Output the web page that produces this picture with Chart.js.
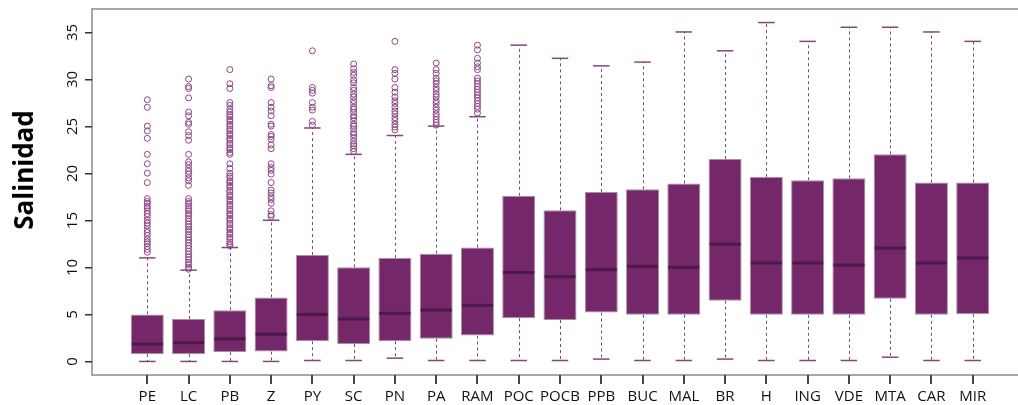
<!DOCTYPE html>
<html>
<head>
<meta charset="utf-8">
<script src="https://cdn.jsdelivr.net/npm/chart.js@4.4.1/dist/chart.umd.min.js"></script>
<style>
  html, body { margin: 0; padding: 0; background: #ffffff; overflow: hidden; }
  #wrap { width: 1040px; height: 405px; position: relative; }
</style>
</head>
<body>
<div id="wrap"><canvas id="c"></canvas></div>
<script>
// ---- data ----
const categories = ['PE','LC','PB','Z','PY','SC','PN','PA','RAM','POC','POCB','PPB','BUC','MAL','BR','H','ING','VDE','MTA','CAR','MIR'];
const whiskerLow  = [0, 0, 0, 0, 0.1, 0.1, 0.35, 0.1, 0.1, 0.1, 0.1, 0.25, 0.1, 0.1, 0.25, 0.1, 0.1, 0.1, 0.45, 0.1, 0.1];
const q1          = [0.8, 0.8, 1.0, 1.05, 2.15, 1.85, 2.15, 2.4, 2.75, 4.6, 4.4, 5.2, 4.95, 4.95, 6.45, 4.95, 4.95, 4.95, 6.65, 4.95, 5.05];
const median      = [1.85, 2.0, 2.4, 2.9, 5.0, 4.5, 5.1, 5.45, 5.95, 9.45, 9.0, 9.75, 10.1, 10.0, 12.45, 10.45, 10.45, 10.25, 12.05, 10.45, 11.0];
const q3          = [5.0, 4.5, 5.45, 6.8, 11.3, 10.0, 11.0, 11.45, 12.1, 17.6, 16.05, 18.0, 18.3, 18.9, 21.5, 19.6, 19.25, 19.45, 22.0, 19.0, 19.0];
const whiskerHigh = [11.0, 9.7, 12.1, 15.0, 24.8, 22.0, 24.0, 25.0, 26.0, 33.6, 32.2, 31.4, 31.8, 35.0, 33.0, 36.0, 34.0, 35.5, 35.5, 35.0, 34.0];

const outliersPE  = [27.8, 27.0, 25.0, 24.5, 23.7, 22.0, 21.0, 20.0, 19.0, 17.3, 17.0, 16.8, 16.5, 16.3, 16.0, 15.7, 15.4, 15.0, 14.7, 14.4, 14.0, 13.7, 13.4, 13.0, 12.7, 12.5, 12.2, 11.9, 11.6];
const outliersLC  = [30.0, 29.2, 29.0, 28.0, 26.5, 26.1, 25.4, 25.2, 24.4, 24.0, 23.5, 22.0, 21.2, 20.9, 20.5, 20.2, 19.9, 19.5, 19.2, 18.7, 17.3, 17.0, 16.8, 16.5, 16.2, 16.0, 15.7, 15.5, 15.2, 14.9, 14.6, 14.3, 14.0, 13.8, 13.5, 13.2, 12.9, 12.6, 12.3, 12.0, 11.7, 11.4, 11.1, 10.8, 10.5, 10.3, 10.0, 9.8];
const outliersPB  = [31.0, 29.5, 29.0, 27.5, 27.2, 26.8, 26.5, 26.2, 26.0, 25.7, 25.5, 25.2, 25.0, 24.7, 24.5, 24.2, 24.0, 23.7, 23.5, 23.2, 23.0, 22.7, 22.5, 22.2, 22.0, 21.0, 20.5, 20.0, 19.7, 19.5, 19.2, 19.0, 18.7, 18.5, 18.2, 18.0, 17.7, 17.5, 17.2, 17.0, 16.7, 16.5, 16.2, 16.0, 15.7, 15.5, 15.2, 15.0, 14.7, 14.5, 14.2, 14.0, 13.7, 13.5, 13.2, 13.0, 12.7, 12.5, 12.3];
const outliersZ   = [30.0, 29.3, 29.1, 27.5, 27.0, 26.6, 26.1, 25.2, 25.0, 24.1, 23.9, 23.6, 23.0, 22.6, 21.0, 20.6, 20.3, 19.9, 19.0, 18.2, 17.9, 17.5, 17.2, 16.8, 16.0, 15.6, 15.4];
const outliersPY  = [33.0, 29.1, 28.8, 28.5, 27.5, 27.0, 26.7, 25.5, 25.1];
const outliersSC  = [31.6, 31.1, 30.7, 30.4, 29.9, 29.6, 29.1, 28.8, 28.4, 28.1, 27.7, 27.4, 27.0, 26.8, 26.5, 26.1, 25.9, 25.6, 25.2, 25.0, 24.7, 24.3, 24.1, 23.8, 23.4, 23.1, 22.9, 22.6, 22.3];
const outliersPN  = [34.0, 31.0, 30.6, 30.0, 29.1, 28.6, 28.1, 27.7, 27.4, 27.0, 26.6, 26.3, 25.9, 25.6, 25.2, 24.9, 24.6];
const outliersPA  = [31.7, 31.0, 30.6, 30.1, 29.8, 29.5, 29.1, 28.8, 28.4, 28.1, 27.7, 27.4, 27.0, 26.7, 26.3, 26.0, 25.7, 25.4, 25.1];
const outliersRAM = [33.6, 33.1, 32.2, 31.7, 31.3, 31.0, 30.1, 29.8, 29.5, 29.2, 28.9, 28.6, 28.3, 28.0, 27.7, 27.4, 27.1, 26.8, 26.4];
const outliers = [outliersPE, outliersLC, outliersPB, outliersZ, outliersPY, outliersSC, outliersPN, outliersPA, outliersRAM,
                  [], [], [], [], [], [], [], [], [], [], [], []];
const yTicks = [0, 5, 10, 15, 20, 25, 30, 35];
const yTitle = 'Salinidad';

// ---- styles ----
const FILL = '#74286a';
const BOX_BORDER = '#a790a2';
const MEDIAN = '#4a1b46';
const WHISKER = '#82477b';
const OUTLIER = '#8c4584';
const FRAME = '#8a8a8a';
const AXIS = '#333333';
const FONT = "'Open Sans', 'DejaVu Sans', sans-serif";

const boxData = categories.map((c, i) => ({ x: i + 1, y: [q1[i], q3[i]] }));
const medianData = categories.map((c, i) => ({ x: i + 1, y: median[i] }));
const capData = [];
categories.forEach((c, i) => {
  capData.push({ x: i + 1, y: whiskerLow[i] });
  capData.push({ x: i + 1, y: whiskerHigh[i] });
});
const outlierData = [];
outliers.forEach((arr, i) => arr.forEach(v => outlierData.push({ x: i + 1, y: v })));

function halfWidthPx(ctx, units) {
  const s = ctx.chart.scales.x;
  return Math.abs(s.getPixelForValue(units) - s.getPixelForValue(0));
}

const extrasPlugin = {
  id: 'boxExtras',
  beforeDatasetsDraw(chart) {
    const { ctx, scales: { x, y } } = chart;
    ctx.save();
    ctx.strokeStyle = WHISKER;
    ctx.lineWidth = 1;
    ctx.setLineDash([3, 3]);
    categories.forEach((c, i) => {
      const px = Math.round(x.getPixelForValue(i + 1)) + 0.5;
      ctx.beginPath();
      ctx.moveTo(px, y.getPixelForValue(q3[i]));
      ctx.lineTo(px, y.getPixelForValue(whiskerHigh[i]));
      ctx.moveTo(px, y.getPixelForValue(q1[i]));
      ctx.lineTo(px, y.getPixelForValue(whiskerLow[i]));
      ctx.stroke();
    });
    ctx.restore();
  },
  afterDraw(chart) {
    const { ctx, chartArea: a, scales: { x, y } } = chart;
    ctx.save();
    ctx.setLineDash([]);
    // frame (right side falls outside the visible picture)
    ctx.strokeStyle = FRAME;
    ctx.lineWidth = 1.5;
    ctx.beginPath();
    ctx.moveTo(a.right, a.top);
    ctx.lineTo(a.left, a.top);
    ctx.lineTo(a.left, a.bottom);
    ctx.lineTo(a.right, a.bottom);
    ctx.stroke();
    // x tick marks
    ctx.fillStyle = '#444444';
    categories.forEach((c, i) => {
      const px = Math.round(x.getPixelForValue(i + 1));
      ctx.fillRect(px - 1, a.bottom, 2, 9);
    });
    // y ticks
    yTicks.forEach(v => {
      const py = Math.round(y.getPixelForValue(v));
      ctx.fillStyle = AXIS;
      ctx.fillRect(a.left - 7, py, 7, 1.5);
      ctx.save();
      ctx.fillStyle = '#111111';
      ctx.font = '15px ' + FONT;
      ctx.translate(a.left - 15, py + 0.5);
      ctx.rotate(-Math.PI / 2);
      ctx.textAlign = 'center';
      ctx.textBaseline = 'alphabetic';
      ctx.fillText(String(v), 0, 0);
      ctx.restore();
    });
    // y title
    ctx.save();
    ctx.translate(33, 170);
    ctx.rotate(-Math.PI / 2);
    ctx.textAlign = 'center';
    ctx.textBaseline = 'alphabetic';
    ctx.font = 'bold 26px ' + FONT;
    ctx.fillStyle = '#000000';
    ctx.fillText(yTitle, 0, 0);
    ctx.restore();
    ctx.restore();
  }
};

new Chart(document.getElementById('c'), {
  type: 'bar',
  data: {
    datasets: [
      {
        type: 'bar',
        data: boxData,
        backgroundColor: FILL,
        borderColor: BOX_BORDER,
        borderWidth: 1,
        borderSkipped: false,
        categoryPercentage: 1,
        barPercentage: 0.8,
        order: 3
      },
      {
        type: 'scatter',
        data: capData,
        pointStyle: 'line',
        pointRadius: ctx => halfWidthPx(ctx, 0.2),
        borderColor: WHISKER,
        borderWidth: 1.5,
        order: 2
      },
      {
        type: 'scatter',
        data: medianData,
        pointStyle: 'line',
        pointRadius: ctx => halfWidthPx(ctx, 0.4) - 1,
        borderColor: MEDIAN,
        borderWidth: 3,
        order: 1
      },
      {
        type: 'scatter',
        data: outlierData,
        pointStyle: 'circle',
        pointRadius: 3,
        backgroundColor: 'rgba(0,0,0,0)',
        borderColor: OUTLIER,
        borderWidth: 1,
        order: 0
      }
    ]
  },
  options: {
    responsive: true,
    maintainAspectRatio: false,
    animation: false,
    events: [],
    layout: { padding: { top: 9, right: 12, left: 0, bottom: 0 } },
    plugins: { legend: { display: false }, tooltip: { enabled: false } },
    scales: {
      x: {
        type: 'linear',
        min: -0.34,
        max: 22.34,
        offset: false,
        afterBuildTicks: s => { s.ticks = categories.map((c, i) => ({ value: i + 1 })); },
        afterFit: s => { s.height = 30; },
        ticks: {
          autoSkip: false,
          maxRotation: 0,
          minRotation: 0,
          padding: 5,
          color: '#111111',
          font: { family: FONT, size: 15 },
          callback: v => categories[v - 1]
        },
        grid: { display: false, drawOnChartArea: false, drawTicks: true, tickLength: 8 },
        border: { display: false }
      },
      y: {
        type: 'linear',
        min: -1.44,
        max: 37.44,
        afterFit: s => { s.width = 92; },
        ticks: { display: false },
        grid: { display: false },
        border: { display: false }
      }
    }
  },
  plugins: [extrasPlugin]
});
</script>
</body>
</html>
